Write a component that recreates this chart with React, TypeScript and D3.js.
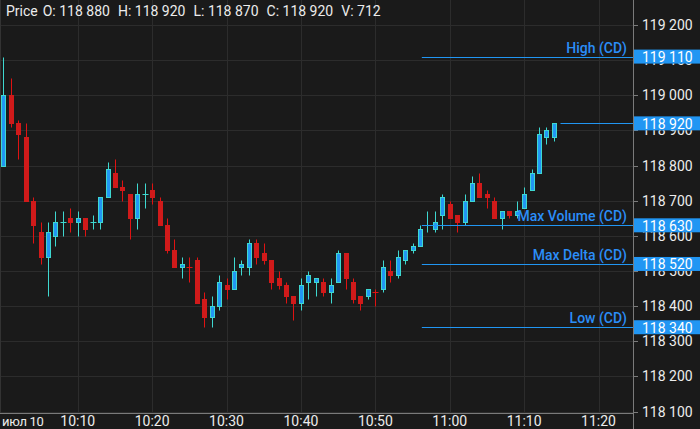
import React from "react";
import * as d3 from "d3";

// ---- data ----
const firstCandle = "10:00";
const opens = [
  118800, 119000, 118920, 118880, 118700, 118610, 118540, 118600, 118640, 118650,
  118640, 118650, 118640, 118640, 118710, 118780, 118740, 118720, 118650, 118720,
  118730, 118700, 118630, 118560, 118510, 118510, 118530, 118420, 118370, 118400,
  118460, 118450, 118510, 118510, 118580, 118550, 118530, 118480, 118460, 118430,
  118410, 118470, 118470, 118470, 118440, 118470, 118550, 118470, 118430, 118430,
  118440, 118450, 118500, 118490, 118530, 118560, 118570, 118630, 118620, 118660,
  118690, 118660, 118640, 118700, 118750, 118720, 118700, 118650, 118670, 118660,
  118680, 118730, 118780, 118880, 118880,
];
const highs = [
  119110, 119050, 118930, 118920, 118710, 118640, 118640, 118670, 118670, 118680,
  118670, 118650, 118660, 118710, 118810, 118820, 118760, 118720, 118750, 118750,
  118750, 118710, 118650, 118590, 118540, 118540, 118540, 118440, 118430, 118490,
  118480, 118540, 118530, 118590, 118590, 118580, 118530, 118500, 118470, 118430,
  118480, 118500, 118480, 118480, 118480, 118560, 118550, 118480, 118430, 118450,
  118450, 118530, 118530, 118560, 118560, 118580, 118630, 118670, 118670, 118720,
  118700, 118660, 118720, 118770, 118780, 118730, 118710, 118670, 118670, 118700,
  118740, 118790, 118910, 118910, 118920,
];
const lows = [
  118800, 118910, 118820, 118700, 118580, 118520, 118430, 118570, 118600, 118610,
  118600, 118600, 118620, 118620, 118710, 118740, 118700, 118590, 118620, 118680,
  118690, 118630, 118550, 118510, 118480, 118470, 118410, 118340, 118340, 118390,
  118420, 118450, 118490, 118490, 118520, 118520, 118450, 118450, 118410, 118360,
  118390, 118420, 118430, 118430, 118410, 118470, 118450, 118410, 118390, 118420,
  118400, 118440, 118470, 118480, 118520, 118550, 118570, 118610, 118610, 118620,
  118650, 118610, 118630, 118700, 118710, 118680, 118650, 118620, 118650, 118650,
  118680, 118730, 118780, 118860, 118870,
];
const closes = [
  119000, 118920, 118890, 118700, 118630, 118540, 118610, 118640, 118640, 118640,
  118650, 118620, 118640, 118710, 118790, 118740, 118730, 118650, 118720, 118720,
  118710, 118630, 118560, 118510, 118520, 118510, 118410, 118370, 118400, 118470,
  118450, 118500, 118520, 118580, 118540, 118530, 118470, 118460, 118430, 118410,
  118460, 118490, 118480, 118440, 118460, 118550, 118480, 118420, 118410, 118450,
  118440, 118510, 118490, 118540, 118560, 118570, 118620, 118630, 118640, 118710,
  118650, 118640, 118700, 118750, 118710, 118710, 118650, 118670, 118660, 118670,
  118720, 118780, 118890, 118900, 118920,
];
const lastVolume = 712;

const priceTicks = [118100, 118200, 118300, 118400, 118500, 118600, 118700, 118800, 118900, 119000, 119100, 119200];
const timeTicks = ["10:10", "10:20", "10:30", "10:40", "10:50", "11:00", "11:10", "11:20"];
const dayLabel = "июл 10";

const levelNames = ["High (CD)", "Max Volume (CD)", "Max Delta (CD)", "Low (CD)"];
const levelValues = [119110, 118630, 118520, 118340];
const levelStart = "10:56:15";

// ---- helpers ----
const day = (s: string) => {
  const [h, m, sec] = s.split(":").map(Number);
  return new Date(2024, 6, 10, h, m, sec || 0);
};
const fmt = d3
  .formatLocale({ decimal: ".", thousands: " ", grouping: [3], currency: ["", ""] })
  .format(",");

const W = 700;
const H = 429;
const PR = 633; // plot right
const PB = 413; // plot bottom

const BG = "#1a1a1a";
const GRID = "#2c2c2c";
const AXIS = "#7a7a7a";
const UP_FILL = "#2196f3";
const UP_LINE = "#3ed8d0";
const DN_FILL = "#d01a1a";
const DN_LINE = "#e01212";
const LEVEL = "#2196f3";
const LEVEL_TEXT = "#2b8ef8";
const TEXT = "#ececec";
const FONT = "Roboto, 'Noto Sans', sans-serif";

export default function App() {
  const t0 = day(firstCandle);
  const times = opens.map((_, i) => d3.timeMinute.offset(t0, i));
  const x = d3.scaleTime().domain([day("09:59:33"), day("11:24:38")]).range([0, PR]);
  const y = d3.scaleLinear().domain([118096, 119271]).range([PB, 0]);
  const cy = (v: number) => Math.round(y(v)) + 0.5;
  const cxp = (d: Date) => Math.round(x(d)) + 0.5;

  const n = opens.length;
  const last = n - 1;

  const candles = opens.map((o, i) => {
    const c = closes[i];
    const prev = i > 0 ? closes[i - 1] : o;
    const up = c > o || (c === o && c >= prev);
    const cx = cxp(times[i]);
    const top = cy(Math.max(o, c));
    const bot = cy(Math.min(o, c));
    const wickCol = up ? UP_LINE : DN_LINE;
    return (
      <g key={i}>
        <line x1={cx} x2={cx} y1={cy(highs[i])} y2={cy(lows[i])} stroke={wickCol} strokeWidth={1} />
        {bot - top >= 2 ? (
          <rect
            x={cx - 2}
            y={top}
            width={4}
            height={bot - top}
            fill={up ? UP_FILL : DN_FILL}
            stroke={up ? UP_LINE : DN_FILL}
            strokeWidth={1}
          />
        ) : (
          <line x1={cx - 3} x2={cx + 3} y1={top} y2={top} stroke={wickCol} strokeWidth={1} />
        )}
      </g>
    );
  });

  const lvlX = x(day(levelStart));
  const lastX = cxp(times[last]);

  return (
    <svg
      width={W}
      height={H}
      style={{ position: "fixed", left: 0, top: 0, display: "block", background: BG }}
      fontFamily={FONT}
    >
      <rect x={0} y={0} width={W} height={H} fill={BG} />
      {/* grid */}
      {priceTicks.map((v) => (
        <line key={"h" + v} x1={0} x2={PR} y1={cy(v)} y2={cy(v)} stroke={GRID} strokeWidth={1} />
      ))}
      {timeTicks.map((t) => (
        <line key={"v" + t} x1={cxp(day(t))} x2={cxp(day(t))} y1={0} y2={PB} stroke={GRID} strokeWidth={1} />
      ))}
      <line x1={0.5} x2={0.5} y1={0} y2={PB} stroke="#333" />

      {candles}

      {/* level lines */}
      {levelValues.map((v, i) => (
        <g key={"l" + i}>
          <line x1={lvlX} x2={PR} y1={cy(v)} y2={cy(v)} stroke={LEVEL} strokeWidth={1} />
          <text x={627} y={cy(v) - 5} textAnchor="end" fontSize={14} fontWeight={500} fill={LEVEL_TEXT}>
            {levelNames[i]}
          </text>
        </g>
      ))}
      {/* current price line */}
      <line x1={lastX + 6} x2={PR} y1={cy(closes[last])} y2={cy(closes[last])} stroke={LEVEL} strokeWidth={1} />

      {/* axes */}
      <line x1={PR + 0.5} x2={PR + 0.5} y1={0} y2={H} stroke={AXIS} />
      <line x1={0} x2={PR} y1={PB + 0.5} y2={PB + 0.5} stroke={AXIS} />
      {priceTicks.map((v) => (
        <g key={"t" + v}>
          <line x1={PR} x2={PR + 5} y1={cy(v)} y2={cy(v)} stroke={AXIS} />
          <text x={642} y={y(v) + 5} fontSize={14} fill={TEXT}>
            {fmt(v)}
          </text>
        </g>
      ))}
      {/* level price boxes */}
      {[...levelValues, closes[last]].map((v, i) => (
        <g key={"b" + i}>
          <rect x={PR + 1} y={y(v) - 7} width={W - PR - 1} height={14} fill={LEVEL} />
          <text x={642} y={y(v) + 5.5} fontSize={14} fill="#ffffff">
            {fmt(v)}
          </text>
        </g>
      ))}

      {/* time axis labels */}
      <text x={2} y={426} fontSize={13} fill={TEXT} letterSpacing={-0.3}>
        {dayLabel}
      </text>
      {timeTicks.map((t) => (
        <text key={"x" + t} x={x(day(t))} y={426} fontSize={14} fill={TEXT} textAnchor="middle">
          {t}
        </text>
      ))}

      {/* header */}
      <text x={6} y={16} fontSize={14} fill={TEXT}>
        <tspan>Price</tspan>
        <tspan dx={5}>O: {fmt(opens[last])}</tspan>
        <tspan dx={8}>H: {fmt(highs[last])}</tspan>
        <tspan dx={8}>L: {fmt(lows[last])}</tspan>
        <tspan dx={8}>C: {fmt(closes[last])}</tspan>
        <tspan dx={8}>V: {lastVolume}</tspan>
      </text>
    </svg>
  );
}
